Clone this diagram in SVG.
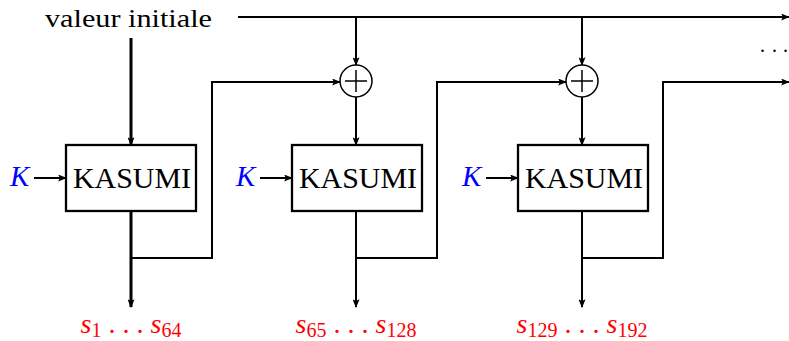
<svg xmlns="http://www.w3.org/2000/svg" width="789" height="341" viewBox="0 0 789 341">
<defs>
<marker id="ah" viewBox="0 0 10 8" refX="9" refY="4" markerWidth="9" markerHeight="7" markerUnits="userSpaceOnUse" orient="auto"><path d="M0,0 L10,4 L0,8 L2,4 z" fill="#000"/></marker>
</defs>
<style>
.ln{fill:none;stroke:#000;stroke-width:2}
.thick{stroke-width:3}
.box{fill:#fff;stroke:#000;stroke-width:2.3}
.xor{fill:#fff;stroke:#000;stroke-width:1.5}
.lbl{font-family:"Liberation Serif","DejaVu Serif",serif;fill:#000}
.key{font-family:"Liberation Serif","DejaVu Serif",serif;font-style:italic;fill:#0000ff;font-size:29px}
.out{font-family:"Liberation Serif","DejaVu Serif",serif;fill:#ff0000;font-size:28px}
.it{font-style:italic}
.sub{font-size:20px}
</style>
<text class="lbl" x="45" y="27" font-size="25" textLength="167" lengthAdjust="spacingAndGlyphs">valeur initiale</text>
<text class="lbl" x="760 772 783" y="52" font-size="20">...</text>
<g id="connectors">
<path class="ln" d="M238,17 H789" marker-end="url(#ah)"/>
<path class="ln thick" d="M131,38 V145" marker-end="url(#ah)"/>
<path class="ln" d="M34,178 H66" marker-end="url(#ah)"/>
<path class="ln thick" d="M131,211 V307" marker-end="url(#ah)"/>
<path class="ln" d="M131,258 H212 V82 H340" marker-end="url(#ah)"/>
<path class="ln" d="M356,17 V65" marker-end="url(#ah)"/>
<path class="ln" d="M356,97 V145" marker-end="url(#ah)"/>
<path class="ln" d="M260,178 H292" marker-end="url(#ah)"/>
<path class="ln" d="M356,211 V307" marker-end="url(#ah)"/>
<path class="ln" d="M356,258 H437 V82 H566" marker-end="url(#ah)"/>
<path class="ln" d="M582,17 V65" marker-end="url(#ah)"/>
<path class="ln" d="M582,97 V145" marker-end="url(#ah)"/>
<path class="ln" d="M486,178 H518" marker-end="url(#ah)"/>
<path class="ln" d="M582,211 V307" marker-end="url(#ah)"/>
<path class="ln" d="M582,258 H663 V82 H789" marker-end="url(#ah)"/>
</g>
<g id="kasumi1">
<rect class="box" x="66" y="145" width="130" height="66"/>
<text class="lbl" x="73" y="188" font-size="30" textLength="118" lengthAdjust="spacingAndGlyphs">KASUMI</text>
</g>
<g id="kasumi2">
<rect class="box" x="292" y="145" width="130" height="66"/>
<text class="lbl" x="299" y="188" font-size="30" textLength="118" lengthAdjust="spacingAndGlyphs">KASUMI</text>
</g>
<g id="kasumi3">
<rect class="box" x="518" y="145" width="130" height="66"/>
<text class="lbl" x="525" y="188" font-size="30" textLength="118" lengthAdjust="spacingAndGlyphs">KASUMI</text>
</g>
<g id="xor2">
<circle class="xor" cx="356" cy="81" r="16"/>
<path class="xor" d="M345,81 H367 M356,70 V92"/>
</g>
<g id="xor3">
<circle class="xor" cx="582" cy="81" r="16"/>
<path class="xor" d="M571,81 H593 M582,70 V92"/>
</g>
<g id="key1"><text class="key" x="10" y="186">K</text></g>
<g id="key2"><text class="key" x="236" y="186">K</text></g>
<g id="key3"><text class="key" x="462" y="186">K</text></g>
<g id="out1"><text class="out" x="131" y="333" text-anchor="middle"><tspan class="it">s</tspan><tspan class="sub" dy="4">1</tspan><tspan dy="-4"> . . . </tspan><tspan class="it">s</tspan><tspan class="sub" dy="4">64</tspan></text></g>
<g id="out2"><text class="out" x="356" y="333" text-anchor="middle"><tspan class="it">s</tspan><tspan class="sub" dy="4">65</tspan><tspan dy="-4"> . . . </tspan><tspan class="it">s</tspan><tspan class="sub" dy="4">128</tspan></text></g>
<g id="out3"><text class="out" x="582" y="333" text-anchor="middle"><tspan class="it">s</tspan><tspan class="sub" dy="4">129</tspan><tspan dy="-4"> . . . </tspan><tspan class="it">s</tspan><tspan class="sub" dy="4">192</tspan></text></g>
</svg>
